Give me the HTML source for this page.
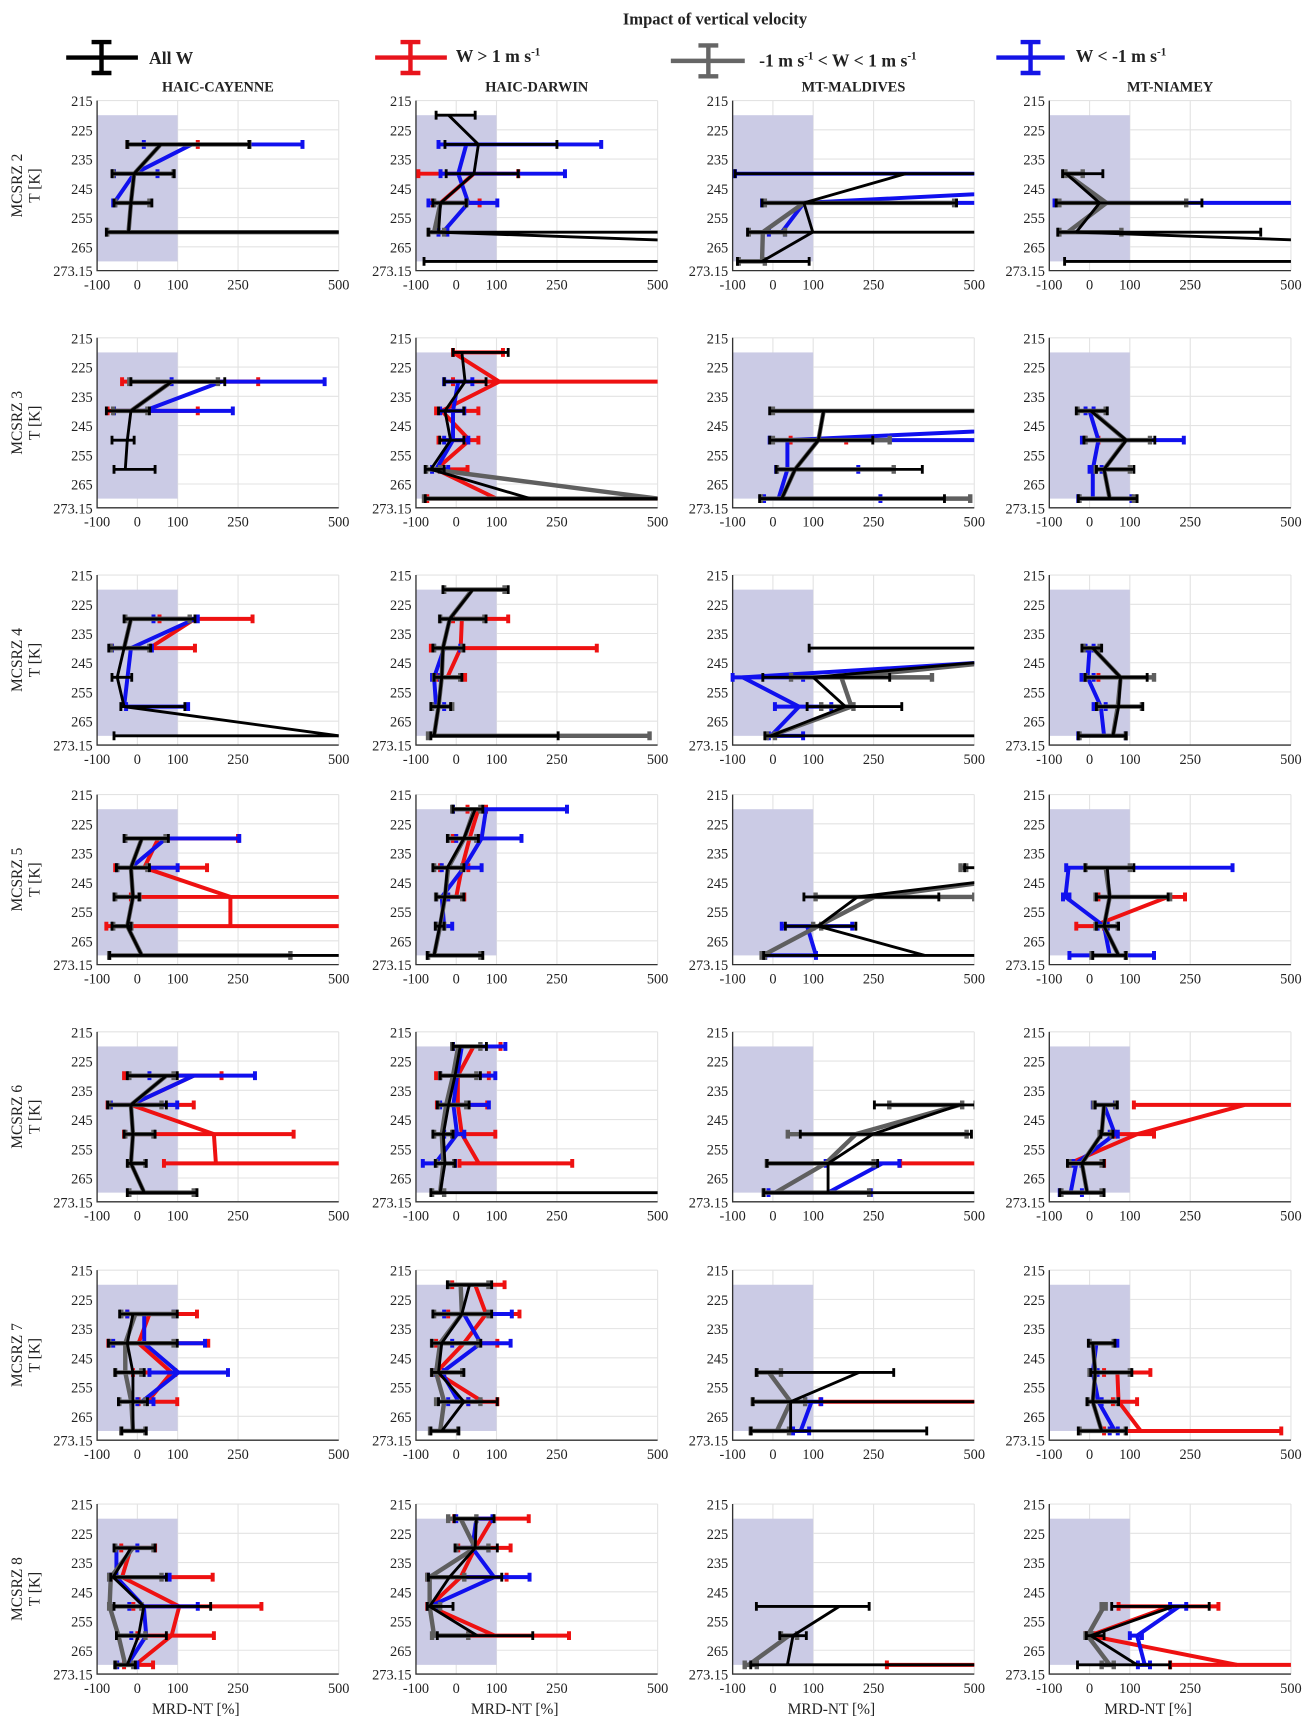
<!DOCTYPE html>
<html><head><meta charset="utf-8"><style>
html,body{margin:0;padding:0;background:#fff;}
svg{display:block;}
text{font-family:"Liberation Serif",serif;fill:#222;}
</style></head><body>
<svg id="fig" xmlns="http://www.w3.org/2000/svg" width="1313" height="1726" viewBox="0 0 1190 1564">
<rect x="0" y="0" width="1190" height="1564" fill="#fff"/>
<text x="648" y="22" text-anchor="middle" font-weight="bold" font-size="15">Impact of vertical velocity</text>
<g>
 <g>
  <path d="M60 52H125M92 38V66M83 38H101M83 66H101" stroke="#000" stroke-width="4" fill="none"/>
  <text x="135" y="58" font-size="16" font-weight="bold">All W</text></g>
 <g>
  <path d="M340 52H405M372 38V66M363 38H381M363 66H381" stroke="#e8141c" stroke-width="4" fill="none"/>
  <text x="413" y="56" font-size="16" font-weight="bold">W &gt; 1 m s<tspan dy="-6" font-size="10">-1</tspan></text></g>
 <g>
  <path d="M608 55H675M642 41V69M633 41H651M633 69H651" stroke="#666" stroke-width="4" fill="none"/>
  <text x="688" y="60" font-size="16" font-weight="bold">-1 m s<tspan dy="-6" font-size="10">-1</tspan><tspan dy="6"> &lt; W &lt; 1 m s</tspan><tspan dy="-6" font-size="10">-1</tspan></text></g>
 <g>
  <path d="M903 52H965M934 38V66M925 38H943M925 66H943" stroke="#1414e6" stroke-width="4" fill="none"/>
  <text x="975" y="56" font-size="16" font-weight="bold">W &lt; -1 m s<tspan dy="-6" font-size="10">-1</tspan></text></g>
</g>
<g id="panels"></g>
</svg>
<script>
const campaigns=["HAIC-CAYENNE","HAIC-DARWIN","MT-MALDIVES","MT-NIAMEY"];
const rowNames=["MCSRZ 2","MCSRZ 3","MCSRZ 4","MCSRZ 5","MCSRZ 6","MCSRZ 7","MCSRZ 8"];
const xTicks=[-100,0,100,250,500];
const yTicks=[215,225,235,245,255,265,273.15];
// each panel (row-major, 4 per row): list of [T, mean, lo, hi]
const blackSeries=[
[[230,58,-25,278],[240,-8,-63,91],[250,-16,-58,36],[260,-22,-77,600]],
[[220,-19,-50,47],[230,55,-28,250],[240,44,-25,154],[250,-39,-58,25],[260,-44,-69,600],[270,2000,-80,2100]],
[[240,330,-94,600],[250,77,-27,456],[260,99,-63,600],[270,-27,-88,90]],
[[240,-58,-67,33],[250,25,-83,279],[260,-33,-79,425],[270,2000,-62,2100]],
[[230,85,-16,217],[240,-16,-77,30],[250,-25,-63,-8],[260,-30,-58,44]],
[[220,14,-8,129],[230,22,-30,74],[240,-28,-44,19],[250,-14,-41,19],[260,-63,-77,-30],[270,184,-77,600]],
[[240,126,-8,600],[250,113,-8,248],[260,55,8,371],[270,22,-33,426]],
[[240,3,-33,44],[250,91,-14,162],[260,36,17,110],[270,50,-28,118]],
[[230,-16,-33,143],[240,-33,-71,33],[250,-50,-63,-14],[260,-33,-41,118],[270,500,-58,650]],
[[220,41,-33,129],[230,-16,-41,74],[240,-33,-58,19],[250,-36,-55,14],[260,-44,-63,-14],[270,-55,-63,253]],
[[240,900,90,1000],[250,100,-25,290],[260,180,85,320],[270,-5,-20,600]],
[[240,8,-19,30],[250,77,-11,143],[260,72,17,132],[270,58,-28,90]],
[[230,11,-33,77],[240,-16,-52,30],[250,-11,-58,5],[260,-25,-63,-16],[270,11,-69,600]],
[[220,47,-8,66],[230,19,-22,55],[240,-22,-58,19],[250,-28,-50,19],[260,-41,-52,-30],[270,-55,-72,66]],
[[240,800,476,504],[250,210,77,412],[260,112,31,206],[270,377,-23,600]],
[[240,44,-11,110],[250,50,17,195],[260,36,17,72],[270,72,8,90]],
[[230,72,-25,99],[240,-16,-74,72],[250,-11,-33,44],[260,-16,-25,22],[270,17,-25,148]],
[[220,10,-8,75],[230,-3,-40,60],[240,-19,-47,32],[250,-32,-58,-8],[260,-28,-52,-3],[270,-40,-63,600]],
[[240,464,252,502],[250,248,68,493],[260,137,-15,260],[270,137,-23,600]],
[[240,36,14,69],[250,30,28,58],[260,-19,-55,36],[270,-6,-74,36]],
[[230,-11,-44,99],[240,-25,-72,99],[250,-11,-55,17],[260,-11,-47,25],[270,-11,-39,22]],
[[220,33,-22,88],[230,14,-58,88],[240,-36,-61,61],[250,-44,-61,19],[260,19,-44,102],[270,-36,-63,6]],
[[250,214,-41,300],[260,44,-50,600],[270,44,-55,382]],
[[240,8,-3,63],[250,14,3,105],[260,8,-6,72],[270,30,-28,91]],
[[230,-16,-58,44],[240,-60,-66,72],[250,16,-58,182],[260,3,-52,72],[270,-25,-55,-5]],
[[220,50,-5,94],[230,47,-3,102],[240,-17,-69,113],[250,-66,-72,-8],[260,52,-47,190]],
[[250,165,-41,239],[260,50,17,83],[270,36,-55,600]],
[[250,209,55,297],[260,3,-8,36],[270,118,-30,200]]
];
const redSeries=[
[[230,135,-25,150]],
[[240,44,-94,154],[250,-39,-58,58]],
[],
[],
[[230,85,-38,300],[240,-16,-74,150]],
[[220,-8,-8,116],[230,107,-8,600],[240,-36,-50,55],[250,33,-44,55],[260,-50,-41,28],[270,100,-72,600]],
[[250,110,44,182]],
[[250,-8,-11,22]],
[[230,143,55,286],[240,30,-63,143]],
[[230,14,-8,129],[240,11,-63,349],[250,-22,-44,22]],
[],
[[250,-8,-11,22]],
[[230,52,-30,250],[240,17,-55,173],[250,231,-16,600],[260,231,-77,600]],
[[220,55,28,74],[230,33,-8,55],[240,14,-40,30],[250,0,-20,20]],
[],
[[250,195,22,237],[260,8,-33,36]],
[[230,140,-33,209],[240,-16,-74,140],[250,190,-33,388],[260,195,66,600]],
[[220,43,-8,110],[230,4,-50,81],[240,4,-48,77],[250,14,-8,97],[260,56,8,288]],
[[260,700,316,800]],
[[240,385,110,600],[250,118,63,160],[260,-50,-50,36]],
[[230,30,-25,148],[240,3,-72,176],[250,85,-11,94],[260,25,3,99]],
[[220,47,-10,120],[230,74,-20,157],[240,19,-50,102],[250,-50,-60,-30],[260,66,30,102]],
[[260,600,118,650]],
[[250,69,36,151],[260,72,58,118],[270,127,36,476]],
[[230,-16,-40,44],[240,-38,-66,187],[250,104,-10,308],[260,85,0,190],[270,-5,-33,39]],
[[220,90,-5,180],[230,47,5,135],[240,11,-72,125],[250,-66,-72,-40],[260,96,30,280]],
[[270,1200,283,1300]],
[[250,200,72,320],[260,0,-10,10],[270,366,200,600]]
];
const blueSeries=[
[[230,135,16,410],[240,-8,-58,50],[250,-58,-60,-55]],
[[230,25,-44,360],[240,5,-39,270],[250,30,-69,102],[260,-33,-44,-22]],
[[240,1500,-94,1600],[250,77,-27,600],[260,22,-10,30]],
[[250,30,-87,600]],
[[230,209,85,465],[240,17,-58,237]],
[[230,5,-30,40],[240,-8,-40,20],[250,-8,-30,30],[260,-50,-60,-20]],
[[240,1600,1600,1600],[250,36,-8,600],[260,36,8,212],[270,14,-22,267]],
[[240,0,-10,10],[250,22,-19,234],[260,8,0,30],[270,8,-28,104]],
[[230,143,40,150],[240,-16,-63,36],[260,-33,-28,126]],
[[240,-30,-55,10],[250,-55,-60,-40],[260,-50,-60,-30]],
[[240,1100,900,1100],[250,-75,-100,75],[260,65,5,145],[270,-5,-10,75]],
[[240,0,-10,10],[250,-5,-20,10],[260,28,10,40],[270,36,-28,90]],
[[230,71,-30,253],[240,-16,-50,100]],
[[220,74,-8,275],[230,63,0,162],[240,19,-36,63],[250,-36,-50,-20],[260,-30,-50,-10]],
[[260,85,22,197],[270,107,-19,107]],
[[240,-52,-58,355],[250,-60,-66,-50],[260,36,20,45],[270,50,-50,160]],
[[230,140,30,292],[240,-16,-66,99]],
[[220,14,-8,122],[230,2,-40,97],[240,-7,-40,81],[250,2,-30,20],[260,-52,-83,-3]],
[[260,272,131,314],[270,137,-11,243]],
[[240,36,8,63],[250,63,50,70],[260,-33,-40,-20],[270,-47,-74,-19]],
[[230,17,-25,90],[240,17,-60,168],[250,102,30,225],[260,11,0,40]],
[[230,19,-30,138],[240,61,-10,135],[250,-36,-50,-30],[260,6,-20,30]],
[[260,96,80,120],[270,69,50,90]],
[[240,17,0,69],[250,8,0,20],[260,22,10,30],[270,63,50,70]],
[[230,-52,-55,0],[240,-52,-70,80],[250,16,-20,150],[260,22,-15,20],[270,-25,-50,0]],
[[220,50,0,90],[230,40,0,80],[240,94,-70,182],[250,-66,-70,-50]],
[],
[[250,223,200,240],[260,118,100,130],[270,137,120,150]]
];
const graySeries=[
[[230,58,-25,278],[240,-8,-60,90],[250,-16,-55,30],[260,-22,-75,600]],
[[250,-39,-55,25],[260,-55,-69,-30]],
[[250,77,-20,450],[260,-25,-60,30],[270,-27,-85,-20]],
[[240,-58,-60,-17],[250,42,-75,240],[260,-54,-75,79]],
[[230,85,-20,200],[240,-16,-60,25]],
[[260,-60,-75,-40],[270,500,-80,600]],
[[240,126,0,600],[250,113,0,290],[260,55,10,300],[270,22,-30,490]],
[[240,5,-30,40],[250,90,-10,150],[260,36,15,100],[270,50,-25,110]],
[[230,-16,-30,130],[240,-33,-65,30]],
[[220,40,-30,120],[230,-16,-40,70],[240,-33,-55,15],[250,-36,-55,10],[260,-44,-60,-10],[270,-55,-70,480]],
[[240,900,900,900],[250,170,45,395],[260,195,120,200],[270,-5,-15,5]],
[[240,8,-15,25],[250,77,-10,160],[260,70,20,130],[270,58,-25,90]],
[[230,11,-30,70],[240,-16,-50,25],[250,-11,-55,5],[260,-25,-60,-15],[270,11,-70,380]],
[[220,45,-10,60],[230,20,-20,50],[240,-20,-55,15],[250,-28,-50,15],[260,-40,-50,-30],[270,-55,-70,60]],
[[240,800,466,480],[250,252,106,500],[260,112,100,120],[270,-25,-28,-20]],
[[240,40,-10,100],[250,50,15,200],[260,36,15,70],[270,72,5,90]],
[[230,72,-20,90],[240,-16,-70,60],[250,-11,-30,40],[260,-16,-20,20],[270,17,-20,140]],
[[220,5,-10,60],[230,-8,-40,50],[240,-25,-45,25],[250,-36,-55,-10],[260,-32,-50,-5],[270,-40,-60,-30]],
[[240,464,289,470],[250,206,37,481],[260,131,-15,250],[270,6,-23,239]],
[[240,36,10,65],[250,30,25,55],[260,-19,-50,30],[270,-6,-70,30]],
[[230,-5,-40,90],[240,-30,-70,90],[250,-30,-55,10],[260,-15,-45,20],[270,-11,-40,20]],
[[220,11,-20,80],[230,14,-55,80],[240,-40,-60,55],[250,-50,-60,15],[260,-30,-50,60],[270,-40,-65,5]],
[[250,-10,-40,20],[260,44,-50,80],[270,10,-55,40]],
[[240,8,0,60],[250,14,0,100],[260,8,-5,70],[270,30,-25,90]],
[[230,-11,-55,40],[240,-66,-70,60],[250,-69,-70,10],[260,-47,-50,20],[270,-30,-55,-10]],
[[220,11,-20,50],[230,47,0,80],[240,-66,-72,20],[250,-66,-70,-40],[260,-55,-60,30]],
[[260,40,20,60],[270,-60,-70,-40]],
[[250,36,30,40],[260,-5,-10,5],[270,50,30,60]]
];

const NS="http://www.w3.org/2000/svg";
const rowTop=[91,306,521,720,935,1151,1363];
const colLeft=[88,377,664,951];
const PW=219, KPX=2.65;
function xPx(c,v){return colLeft[c]+(v+100)*PW/600;}
function yPx(r,T){return rowTop[r]+(T-215)*KPX;}
function mk(tag,attrs,parent){const e=document.createElementNS(NS,tag);for(const k in attrs)e.setAttribute(k,attrs[k]);parent.appendChild(e);return e;}
const root=document.getElementById('panels');
const defs=mk('defs',{},root);
const styles=[{data:redSeries,col:'#ee1111',w:3.6,name:'w-up'},{data:blueSeries,col:'#1010ee',w:3.6,name:'w-down'},{data:graySeries,col:'#5f5f5f',w:4,name:'w-mid'},{data:blackSeries,col:'#000',w:2.6,name:'all-w'}];
for(let r=0;r<7;r++){for(let c=0;c<4;c++){
 const p=r*4+c;
 const g=mk('g',{},root);
 
 
 const x0=colLeft[c], y0=rowTop[r], y1=yPx(r,273.15), x1=x0+PW;
 for(const t of xTicks){const l=mk('line',{x1:xPx(c,t),x2:xPx(c,t),y1:y0,y2:y1,stroke:'#e3e3e3','stroke-width':1},g);
  }
 for(const t of yTicks){const l=mk('line',{x1:x0,x2:x1,y1:yPx(r,t),y2:yPx(r,t),stroke:'#e3e3e3','stroke-width':1},g);
  }
 const sh=mk('rect',{x:xPx(c,-100),y:yPx(r,220),width:xPx(c,100)-xPx(c,-100),height:yPx(r,270)-yPx(r,220),fill:'#cbcbe5'},g);
 
 const ax=mk('path',{d:`M${x0} ${y0}V${y1}H${x1}`,stroke:'#333','stroke-width':1.2,fill:'none'},g);
 
 for(const t of xTicks){const tx=mk('text',{x:xPx(c,t),y:y1+17,'text-anchor':'middle','font-size':13},g);tx.textContent=String(t);
  }
 for(const t of yTicks){const tx=mk('text',{x:x0-4,y:yPx(r,t)+5,'text-anchor':'end','font-size':13},g);tx.textContent=String(t);
  }
 const cp=mk('clipPath',{id:'cp'+p},defs);mk('rect',{x:x0-4,y:y0,width:PW+4,height:y1-y0},cp);
 const dg=mk('g',{'clip-path':`url(#cp${p})`},g);
 for(const s of styles){
  const pts=s.data[p]; if(!pts||!pts.length) continue;
  const sg=mk('g',{stroke:s.col,fill:'none','stroke-width':s.w},dg);
  
  if(pts.length>1){const pl=mk('polyline',{points:pts.map(q=>xPx(c,q[1])+','+yPx(r,q[0])).join(' '),'stroke-linejoin':'round'},sg);
   }
  for(const q of pts){const y=yPx(r,q[0]),a=xPx(c,q[2]),b=xPx(c,q[3]);
   const eb=mk('path',{d:`M${a} ${y}H${b}M${a} ${y-4}V${y+4}M${b} ${y-4}V${y+4}`},sg);
   }
 }
 if(r===0){const t=mk('text',{x:x0+PW/2,y:y0-8,'text-anchor':'middle','font-size':13,'font-weight':'bold'},g);t.textContent=campaigns[c];
  }
 if(c===0){const cy=(y0+y1)/2;
  const t1=mk('text',{x:0,y:0,transform:`translate(20,${cy}) rotate(-90)`,'text-anchor':'middle','font-size':14},g);t1.textContent=rowNames[r];
  
  const t2=mk('text',{x:0,y:0,transform:`translate(36,${cy}) rotate(-90)`,'text-anchor':'middle','font-size':14},g);t2.textContent='T [K]';
  }
 if(r===6){const t=mk('text',{x:x0+PW/2-20,y:y1+36,'text-anchor':'middle','font-size':14},g);t.textContent='MRD-NT [%]';
  }
}}
</script>
</body></html>
